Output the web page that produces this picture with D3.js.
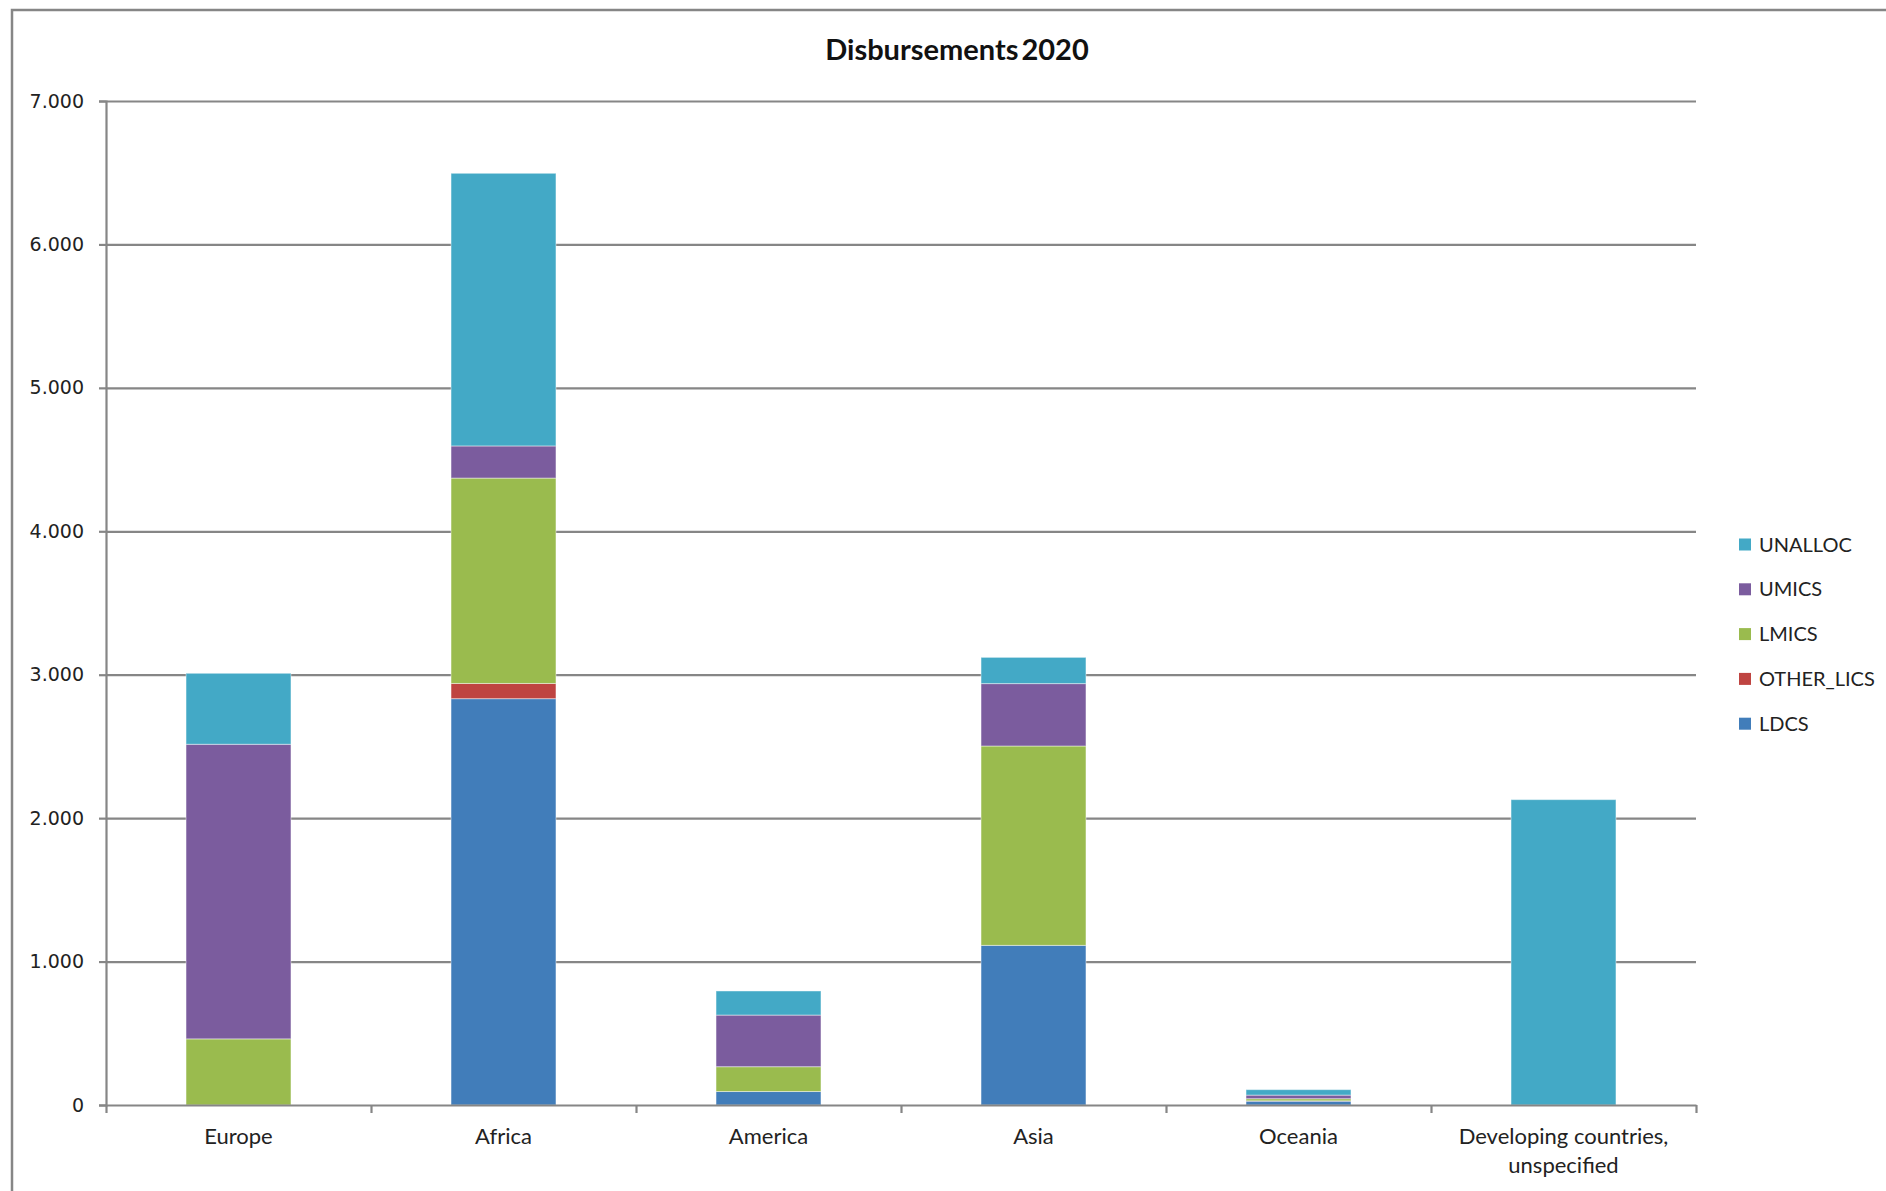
<!DOCTYPE html>
<html>
<head>
<meta charset="utf-8">
<script src="https://cdn.jsdelivr.net/npm/d3@7"></script>
<style>
    body { margin: 0; background: #fff; }
    svg { display: block; }
</style>
</head>
<body>
<script>
"use strict";
(function(){
    // categories on the x axis (each entry = lines of the label)
    const categories = ["Europe", "Africa", "America", "Asia", "Oceania", "Developing countries, unspecified"]
    const categoryLines = [["Europe"], ["Africa"], ["America"], ["Asia"], ["Oceania"], ["Developing countries,", "unspecified"]]

    // series values, bottom to top of the stack
    const seriesNames = ["LDCS", "OTHER_LICS", "LMICS", "UMICS", "UNALLOC"]
    const ldcs      = [0,    2833, 94,  1113, 27, 0]
    const otherLics = [0,    106,  0,   0,    2,  0]
    const lmics     = [461,  1432, 173, 1390, 15, 0]
    const umics     = [2054, 224,  360, 435,  25, 0]
    const unalloc   = [495,  1901, 168, 183,  38, 2129]
    const seriesColors = ["#417dba", "#bf4441", "#9abb4e", "#7b5c9e", "#43a9c6"]

    const yTicks = [0, 1000, 2000, 3000, 4000, 5000, 6000, 7000]

    const measurements = {
        width: 1886,
        height: 1191,
        left: 106,
        right: 1696,
        top: 101,
        bottom: 1105
    }

    const svg = d3.select("body").append("svg")
        .attr("width", measurements.width)
        .attr("height", measurements.height)

    svg.append("rect")
        .attr("width", measurements.width)
        .attr("height", measurements.height)
        .attr("fill", "#fff")

    // chart frame (runs off the right and bottom edge)
    svg.append("rect")
        .attr("x", 12)
        .attr("y", 10)
        .attr("width", measurements.width + 20)
        .attr("height", measurements.height + 20)
        .attr("fill", "none")
        .attr("stroke", "#868686")
        .attr("stroke-width", 2.5)

    // build rows for d3.stack
    const valuesBySeries = [ldcs, otherLics, lmics, umics, unalloc]
    const table = categories.map((c, i) => {
        const row = { category: c }
        seriesNames.forEach((s, j) => row[s] = valuesBySeries[j][i])
        return row
    })
    const stacked = d3.stack().keys(seriesNames)(table)

    const x = d3.scaleBand()
        .domain(categories)
        .range([measurements.left, measurements.right])
        .padding(0)
    const xEdges = d3.scaleLinear()
        .domain([0, categories.length])
        .range([measurements.left, measurements.right])
    const y = d3.scaleLinear()
        .domain([0, 7000])
        .range([measurements.bottom, measurements.top])

    const color = d3.scaleOrdinal().domain(seriesNames).range(seriesColors)

    // gridlines
    svg.append("g")
        .attr("transform", `translate(${measurements.left},0)`)
        .call(d3.axisLeft(y).tickValues(yTicks.slice(1))
            .tickSize(-(measurements.right - measurements.left)).tickFormat(""))
        .call(g => g.select(".domain").remove())
        .selectAll("line")
            .attr("stroke", "#868686")
            .attr("stroke-width", 2.2)

    // bars
    const barWidth = x.bandwidth() * 0.396
    svg.append("g")
        .selectAll("g")
        .data(stacked)
        .enter()
        .append("g")
            .attr("fill", d => color(d.key))
        .selectAll("rect")
        .data(d => d)
        .enter()
        .append("rect")
            .attr("x", d => x(d.data.category) + (x.bandwidth() - barWidth) / 2)
            .attr("y", d => y(d[1]))
            .attr("width", barWidth)
            .attr("height", d => Math.max(0, y(d[0]) - y(d[1])))
            .attr("stroke", "rgba(255,255,255,0.45)")
            .attr("stroke-width", d => (d[1] - d[0]) > 0 ? 1 : 0)

    // y axis
    const yAxis = svg.append("g")
        .attr("transform", `translate(${measurements.left},0)`)
        .call(d3.axisLeft(y).tickValues(yTicks).tickSize(7).tickPadding(15)
            .tickFormat(d => d3.format(",")(d).replace(",", ".")))
    yAxis.selectAll("line, path").attr("stroke", "#868686").attr("stroke-width", 2.2)
    yAxis.selectAll("text")
        .attr("fill", "#222")
        .style("font-family", "'DejaVu Sans', Verdana, sans-serif")
        .style("font-size", "19px")

    // x axis: ticks on the category edges
    const xAxis = svg.append("g")
        .attr("transform", `translate(0,${measurements.bottom})`)
        .call(d3.axisBottom(xEdges).tickValues(d3.range(categories.length + 1))
            .tickSize(8).tickSizeOuter(0).tickFormat(""))
    xAxis.selectAll("line, path").attr("stroke", "#868686").attr("stroke-width", 2.2)

    // x labels
    const labels = svg.append("g")
        .selectAll("text")
        .data(categories)
        .enter()
        .append("text")
            .attr("x", d => x(d) + x.bandwidth() / 2)
            .attr("y", 1144)
            .attr("text-anchor", "middle")
            .attr("fill", "#222")
            .style("font-family", "Lato, sans-serif")
            .style("font-size", "22px")
    labels.each(function(d, i) {
        categoryLines[i].forEach((line, k) => {
            d3.select(this).append("tspan")
                .attr("x", x(d) + x.bandwidth() / 2)
                .attr("dy", k === 0 ? 0 : 29)
                .text(line)
        })
    })

    // title
    svg.append("text")
        .attr("x", 957)
        .attr("y", 60)
        .attr("text-anchor", "middle")
        .attr("fill", "#111")
        .style("font-family", "Lato, sans-serif")
        .style("font-weight", "bold")
        .style("font-size", "29px")
        .style("word-spacing", "-4px")
        .text("Disbursements 2020")

    // legend, top entry is the last series
    const legendOrder = seriesNames.slice().reverse()
    const legend = svg.append("g")
        .selectAll("g")
        .data(legendOrder)
        .enter()
        .append("g")
            .attr("transform", (d, i) => `translate(1739,${544.5 + i * 44.8})`)
    legend.append("rect")
        .attr("x", 0)
        .attr("y", -6)
        .attr("width", 12)
        .attr("height", 12)
        .attr("fill", d => color(d))
    legend.append("text")
        .attr("x", 20)
        .attr("y", 7)
        .attr("fill", "#222")
        .style("font-family", "Lato, sans-serif")
        .style("font-size", "20px")
        .text(d => d)
})()
</script>
</body>
</html>
